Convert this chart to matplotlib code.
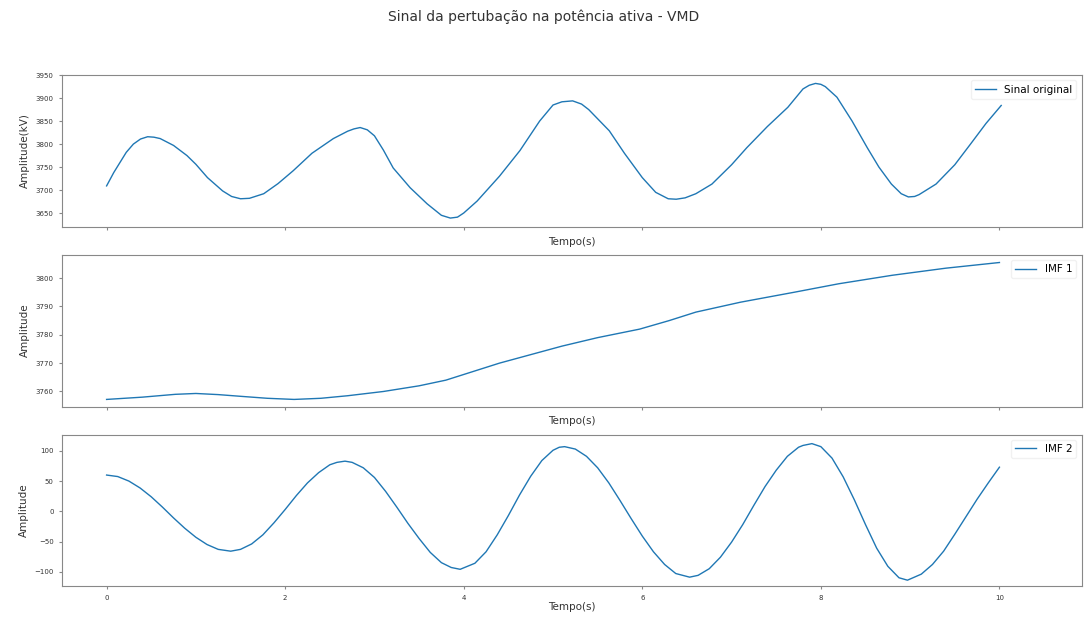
import numpy as np
import matplotlib
matplotlib.use('Agg')
from matplotlib import pyplot as plt

# sinal original (kV)
t_sig = [0.0, 0.08, 0.15, 0.22, 0.3, 0.38, 0.46, 0.53, 0.6, 0.75, 0.9, 1.0, 1.13, 1.3, 1.4, 1.5, 1.6,
         1.76, 1.92, 2.09, 2.3, 2.54, 2.7, 2.77, 2.84, 2.92, 3.0, 3.1, 3.21, 3.4, 3.59, 3.75, 3.85,
         3.93, 4.0, 4.15, 4.4, 4.63, 4.85, 5.0, 5.1, 5.22, 5.32, 5.4, 5.63, 5.8, 6.0, 6.15, 6.29,
         6.38, 6.48, 6.6, 6.78, 7.0, 7.17, 7.4, 7.63, 7.8, 7.87, 7.94, 8.0, 8.05, 8.18, 8.35, 8.52,
         8.65, 8.79, 8.9, 8.98, 9.05, 9.1, 9.29, 9.5, 9.68, 9.85, 10.02]
sinal = [3709, 3738, 3760, 3782, 3800, 3811, 3816, 3815, 3812, 3797, 3775, 3756, 3727, 3698, 3686, 3681, 3682,
         3692, 3714, 3742, 3780, 3812, 3828, 3833, 3836, 3831, 3818, 3787, 3748, 3705, 3670, 3645, 3639,
         3641, 3650, 3676, 3730, 3786, 3850, 3885, 3892, 3894, 3887, 3875, 3829, 3780, 3727, 3695, 3681,
         3680, 3683, 3692, 3713, 3755, 3792, 3838, 3880, 3920, 3928, 3932, 3930, 3925, 3902, 3850, 3792,
         3750, 3713, 3692, 3685, 3686, 3690, 3713, 3755, 3801, 3845, 3884]

# IMF 1 (tendencia)
t_imf1 = [0.0, 0.4, 0.77, 1.0, 1.25, 1.5, 1.8, 2.1, 2.4, 2.7, 3.1, 3.5, 3.8, 4.1, 4.4, 4.75, 5.1,
          5.5, 5.97, 6.3, 6.6, 7.1, 7.7, 8.2, 8.8, 9.4, 10.0]
imf1 = [3757.2, 3758.0, 3759.0, 3759.3, 3758.9, 3758.3, 3757.6, 3757.2, 3757.6, 3758.5, 3760.0,
        3762.0, 3764.0, 3767.0, 3770.0, 3773.0, 3776.0, 3779.0, 3782.0, 3785.0, 3788.0, 3791.5,
        3795.0, 3798.0, 3801.0, 3803.5, 3805.5]

# IMF 2 (oscilacao)
t_imf2 = [0.0, 0.125, 0.25, 0.375, 0.5, 0.625, 0.75, 0.875, 1.0, 1.125, 1.25, 1.39, 1.5, 1.625,
          1.75, 1.875, 2.0, 2.125, 2.25, 2.375, 2.5, 2.58, 2.67, 2.75, 2.875, 3.0, 3.125, 3.25,
          3.375, 3.5, 3.625, 3.75, 3.86, 3.96, 4.125, 4.25, 4.375, 4.5, 4.625, 4.75, 4.875, 5.0,
          5.07, 5.13, 5.25, 5.375, 5.5, 5.625, 5.75, 5.875, 6.0, 6.125, 6.25, 6.375, 6.53, 6.625,
          6.75, 6.875, 7.0, 7.125, 7.25, 7.375, 7.5, 7.625, 7.75, 7.8, 7.9, 8.0, 8.125, 8.25,
          8.375, 8.5, 8.625, 8.75, 8.875, 8.97, 9.125, 9.25, 9.375, 9.5, 9.625, 9.75, 9.875, 10.0]
imf2 = [60, 57.5, 50, 38.6, 24, 7, -11, -28, -43, -55, -63, -66, -63, -54,
        -39, -19, 3, 26, 47, 64, 77, 81, 83, 81, 72, 56, 33, 7,
        -20, -45, -68, -85, -93, -96, -86, -67, -39, -7, 27, 58, 84, 101,
        106, 107, 103, 91, 72, 47, 18, -12, -41, -67, -88, -103, -109, -106,
        -95, -76, -51, -22, 10, 41, 68, 91, 106, 109, 112, 107, 88, 57,
        19, -22, -61, -91, -110, -114, -104, -88, -66, -38, -9, 20, 47, 73]

series = [(t_sig, sinal, 'Sinal original', 'Amplitude(kV)', [3650, 3700, 3750, 3800, 3850, 3900, 3950], (3620, 3950)),
          (t_imf1, imf1, 'IMF 1', 'Amplitude', [3760, 3770, 3780, 3790, 3800], (3754.7, 3808.2)),
          (t_imf2, imf2, 'IMF 2', 'Amplitude', [-100, -50, 0, 50, 100], (-124, 127))]

fig, axs = plt.subplots(3, 1, figsize=(10.87, 6.21), dpi=100)
fig.subplots_adjust(left=0.057, right=0.995, top=0.879, bottom=0.056, hspace=0.185)
fig.suptitle('Sinal da pertubação na potência ativa - VMD', fontsize=10, y=0.985, color='#333333')

for i, (ax, (t, v, lab, ylab, yt, yl)) in enumerate(zip(axs, series)):
    ax.plot(t, v, color='#1f77b4', lw=1.0, label=lab)
    ax.set_xlim(-0.5, 10.92)
    ax.set_ylim(*yl)
    ax.set_yticks(yt)
    ax.set_xticks([0, 2, 4, 6, 8, 10])
    ax.tick_params(labelsize=5, length=2.5, color='#888888', labelcolor='#333333')
    if i < 2:
        ax.set_xticklabels([])
    ax.set_xlabel('Tempo(s)', fontsize=7.5, labelpad=1, color='#333333')
    ax.set_ylabel(ylab, fontsize=7.5, labelpad=4, color='#333333')
    for s in ax.spines.values():
        s.set_color('#888888')
    ax.legend(loc='upper right', fontsize=7.5, frameon=True, edgecolor='#eeeeee')

plt.savefig('out.png', dpi=100)
